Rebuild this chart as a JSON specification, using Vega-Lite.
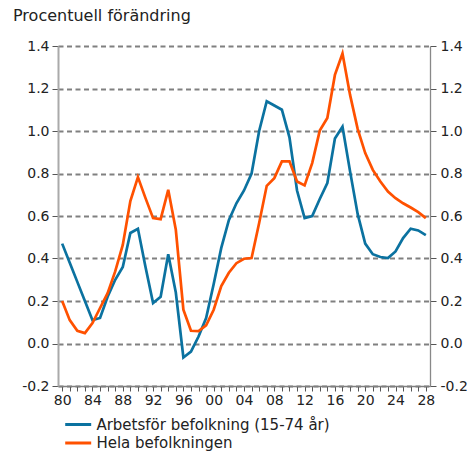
{
  "$schema": "https://vega.github.io/schema/vega-lite/v6.json",
  "width": 372,
  "height": 340,
  "autosize": {"type": "none"},
  "padding": {"left": 58, "top": 46, "right": 41, "bottom": 66},
  "background": "white",
  "config": {
    "font": "DejaVu Sans",
    "view": {"stroke": null},
    "axis": {"labelFont": "DejaVu Sans", "labelColor": "#222222", "labelFontSize": 14, "labelOverlap": false},
    "axisX": {"labelOverlap": false, "labelFlush": false}
  },
  "title": {
    "text": "Procentuell förändring",
    "anchor": "start",
    "frame": "group",
    "dx": -45,
    "offset": 2,
    "baseline": "alphabetic",
    "fontSize": 16,
    "fontWeight": "normal",
    "color": "#222222",
    "font": "DejaVu Sans"
  },
  "datasets": {
    "series": [
      {"year": 1980, "serie": "Arbetsför befolkning (15-74 år)", "value": 0.47},
      {"year": 1981, "serie": "Arbetsför befolkning (15-74 år)", "value": 0.38},
      {"year": 1982, "serie": "Arbetsför befolkning (15-74 år)", "value": 0.29},
      {"year": 1983, "serie": "Arbetsför befolkning (15-74 år)", "value": 0.2},
      {"year": 1984, "serie": "Arbetsför befolkning (15-74 år)", "value": 0.11},
      {"year": 1985, "serie": "Arbetsför befolkning (15-74 år)", "value": 0.12},
      {"year": 1986, "serie": "Arbetsför befolkning (15-74 år)", "value": 0.22},
      {"year": 1987, "serie": "Arbetsför befolkning (15-74 år)", "value": 0.3},
      {"year": 1988, "serie": "Arbetsför befolkning (15-74 år)", "value": 0.36},
      {"year": 1989, "serie": "Arbetsför befolkning (15-74 år)", "value": 0.52},
      {"year": 1990, "serie": "Arbetsför befolkning (15-74 år)", "value": 0.54},
      {"year": 1991, "serie": "Arbetsför befolkning (15-74 år)", "value": 0.36},
      {"year": 1992, "serie": "Arbetsför befolkning (15-74 år)", "value": 0.19},
      {"year": 1993, "serie": "Arbetsför befolkning (15-74 år)", "value": 0.22},
      {"year": 1994, "serie": "Arbetsför befolkning (15-74 år)", "value": 0.42},
      {"year": 1995, "serie": "Arbetsför befolkning (15-74 år)", "value": 0.24},
      {"year": 1996, "serie": "Arbetsför befolkning (15-74 år)", "value": -0.066},
      {"year": 1997, "serie": "Arbetsför befolkning (15-74 år)", "value": -0.038},
      {"year": 1998, "serie": "Arbetsför befolkning (15-74 år)", "value": 0.033},
      {"year": 1999, "serie": "Arbetsför befolkning (15-74 år)", "value": 0.12},
      {"year": 2000, "serie": "Arbetsför befolkning (15-74 år)", "value": 0.28},
      {"year": 2001, "serie": "Arbetsför befolkning (15-74 år)", "value": 0.45},
      {"year": 2002, "serie": "Arbetsför befolkning (15-74 år)", "value": 0.58},
      {"year": 2003, "serie": "Arbetsför befolkning (15-74 år)", "value": 0.66},
      {"year": 2004, "serie": "Arbetsför befolkning (15-74 år)", "value": 0.72},
      {"year": 2005, "serie": "Arbetsför befolkning (15-74 år)", "value": 0.8},
      {"year": 2006, "serie": "Arbetsför befolkning (15-74 år)", "value": 1.0},
      {"year": 2007, "serie": "Arbetsför befolkning (15-74 år)", "value": 1.14},
      {"year": 2008, "serie": "Arbetsför befolkning (15-74 år)", "value": 1.12},
      {"year": 2009, "serie": "Arbetsför befolkning (15-74 år)", "value": 1.1},
      {"year": 2010, "serie": "Arbetsför befolkning (15-74 år)", "value": 0.97},
      {"year": 2011, "serie": "Arbetsför befolkning (15-74 år)", "value": 0.72},
      {"year": 2012, "serie": "Arbetsför befolkning (15-74 år)", "value": 0.59},
      {"year": 2013, "serie": "Arbetsför befolkning (15-74 år)", "value": 0.6},
      {"year": 2014, "serie": "Arbetsför befolkning (15-74 år)", "value": 0.68},
      {"year": 2015, "serie": "Arbetsför befolkning (15-74 år)", "value": 0.755},
      {"year": 2016, "serie": "Arbetsför befolkning (15-74 år)", "value": 0.965},
      {"year": 2017, "serie": "Arbetsför befolkning (15-74 år)", "value": 1.02},
      {"year": 2018, "serie": "Arbetsför befolkning (15-74 år)", "value": 0.81},
      {"year": 2019, "serie": "Arbetsför befolkning (15-74 år)", "value": 0.61},
      {"year": 2020, "serie": "Arbetsför befolkning (15-74 år)", "value": 0.47},
      {"year": 2021, "serie": "Arbetsför befolkning (15-74 år)", "value": 0.42},
      {"year": 2022, "serie": "Arbetsför befolkning (15-74 år)", "value": 0.407},
      {"year": 2023, "serie": "Arbetsför befolkning (15-74 år)", "value": 0.402},
      {"year": 2024, "serie": "Arbetsför befolkning (15-74 år)", "value": 0.433},
      {"year": 2025, "serie": "Arbetsför befolkning (15-74 år)", "value": 0.496},
      {"year": 2026, "serie": "Arbetsför befolkning (15-74 år)", "value": 0.54},
      {"year": 2027, "serie": "Arbetsför befolkning (15-74 år)", "value": 0.532},
      {"year": 2028, "serie": "Arbetsför befolkning (15-74 år)", "value": 0.51},
      {"year": 1980, "serie": "Hela befolkningen", "value": 0.2},
      {"year": 1981, "serie": "Hela befolkningen", "value": 0.11},
      {"year": 1982, "serie": "Hela befolkningen", "value": 0.06},
      {"year": 1983, "serie": "Hela befolkningen", "value": 0.049},
      {"year": 1984, "serie": "Hela befolkningen", "value": 0.096},
      {"year": 1985, "serie": "Hela befolkningen", "value": 0.167},
      {"year": 1986, "serie": "Hela befolkningen", "value": 0.237},
      {"year": 1987, "serie": "Hela befolkningen", "value": 0.339},
      {"year": 1988, "serie": "Hela befolkningen", "value": 0.464},
      {"year": 1989, "serie": "Hela befolkningen", "value": 0.67},
      {"year": 1990, "serie": "Hela befolkningen", "value": 0.783},
      {"year": 1991, "serie": "Hela befolkningen", "value": 0.684},
      {"year": 1992, "serie": "Hela befolkningen", "value": 0.59},
      {"year": 1993, "serie": "Hela befolkningen", "value": 0.585},
      {"year": 1994, "serie": "Hela befolkningen", "value": 0.723},
      {"year": 1995, "serie": "Hela befolkningen", "value": 0.535},
      {"year": 1996, "serie": "Hela befolkningen", "value": 0.159},
      {"year": 1997, "serie": "Hela befolkningen", "value": 0.06},
      {"year": 1998, "serie": "Hela befolkningen", "value": 0.058},
      {"year": 1999, "serie": "Hela befolkningen", "value": 0.085},
      {"year": 2000, "serie": "Hela befolkningen", "value": 0.159},
      {"year": 2001, "serie": "Hela befolkningen", "value": 0.27},
      {"year": 2002, "serie": "Hela befolkningen", "value": 0.333},
      {"year": 2003, "serie": "Hela befolkningen", "value": 0.378},
      {"year": 2004, "serie": "Hela befolkningen", "value": 0.399},
      {"year": 2005, "serie": "Hela befolkningen", "value": 0.402},
      {"year": 2006, "serie": "Hela befolkningen", "value": 0.567},
      {"year": 2007, "serie": "Hela befolkningen", "value": 0.742},
      {"year": 2008, "serie": "Hela befolkningen", "value": 0.778},
      {"year": 2009, "serie": "Hela befolkningen", "value": 0.857},
      {"year": 2010, "serie": "Hela befolkningen", "value": 0.857},
      {"year": 2011, "serie": "Hela befolkningen", "value": 0.762},
      {"year": 2012, "serie": "Hela befolkningen", "value": 0.744},
      {"year": 2013, "serie": "Hela befolkningen", "value": 0.849},
      {"year": 2014, "serie": "Hela befolkningen", "value": 1.002},
      {"year": 2015, "serie": "Hela befolkningen", "value": 1.061},
      {"year": 2016, "serie": "Hela befolkningen", "value": 1.264},
      {"year": 2017, "serie": "Hela befolkningen", "value": 1.365},
      {"year": 2018, "serie": "Hela befolkningen", "value": 1.17},
      {"year": 2019, "serie": "Hela befolkningen", "value": 1.01},
      {"year": 2020, "serie": "Hela befolkningen", "value": 0.896},
      {"year": 2021, "serie": "Hela befolkningen", "value": 0.817},
      {"year": 2022, "serie": "Hela befolkningen", "value": 0.762},
      {"year": 2023, "serie": "Hela befolkningen", "value": 0.715},
      {"year": 2024, "serie": "Hela befolkningen", "value": 0.684},
      {"year": 2025, "serie": "Hela befolkningen", "value": 0.66},
      {"year": 2026, "serie": "Hela befolkningen", "value": 0.64},
      {"year": 2027, "serie": "Hela befolkningen", "value": 0.618},
      {"year": 2028, "serie": "Hela befolkningen", "value": 0.59}
    ]
  },
  "layer": [
    {
      "data": {"name": "series"},
      "mark": {"type": "line", "strokeWidth": 2.7, "strokeJoin": "miter"},
      "encoding": {
        "x": {
          "field": "year",
          "type": "quantitative",
          "scale": {"domain": [1979.45, 2028.55], "nice": false, "zero": false},
          "axis": {
            "title": null,
            "values": [1980,1981,1982,1983,1984,1985,1986,1987,1988,1989,1990,1991,1992,1993,1994,1995,1996,1997,1998,1999,2000,2001,2002,2003,2004,2005,2006,2007,2008,2009,2010,2011,2012,2013,2014,2015,2016,2017,2018,2019,2020,2021,2022,2023,2024,2025,2026,2027,2028],
            "labelExpr": "datum.value % 4 == 0 ? slice(toString(datum.value), 2) : ''",
            "labelOverlap": false,
            "labelFlush": false,
            "grid": false,
            "tickSize": 5,
            "tickColor": "#555555",
            "tickWidth": 1,
            "domainColor": "#808080",
            "domainWidth": 1.5,
            "labelPadding": 2
          }
        },
        "y": {
          "field": "value",
          "type": "quantitative",
          "scale": {"domain": [-0.2, 1.4], "nice": false, "zero": false},
          "axis": {
            "title": null,
            "orient": "left",
            "values": [-0.2, 0, 0.2, 0.4, 0.6, 0.8, 1.0, 1.2, 1.4],
            "labelExpr": "datum.value < 0 ? '-' + format(-datum.value, '.1f') : format(datum.value, '.1f')",
            "grid": true,
            "gridColor": "#808080",
            "gridDash": [5, 3.5],
            "gridWidth": 1.8,
            "tickSize": 6,
            "tickColor": "#555555",
            "domainColor": "#aaaaaa",
            "domainWidth": 2,
            "labelPadding": 3
          }
        },
        "color": {
          "field": "serie",
          "type": "nominal",
          "scale": {
            "domain": ["Arbetsför befolkning (15-74 år)", "Hela befolkningen"],
            "range": ["#0b72a0", "#ff5100"]
          },
          "legend": {
            "title": null,
            "orient": "none",
            "legendX": 12.7,
            "legendY": 371,
            "padding": 0,
            "direction": "vertical",
            "symbolType": "M-3,0H3",
            "symbolSize": 75,
            "symbolStrokeWidth": 3,
            "labelFontSize": 15,
            "labelColor": "#222222",
            "labelOffset": 10.7,
            "labelLimit": 400,
            "rowPadding": 2.5
          }
        }
      }
    },
    {
      "mark": {"type": "rule", "color": "#000000", "strokeWidth": 1.3},
      "encoding": {
        "y": {
          "datum": 0,
          "type": "quantitative",
          "scale": {"domain": [-0.2, 1.4], "nice": false, "zero": false},
          "axis": {
            "title": null,
            "orient": "right",
            "values": [-0.2, 0, 0.2, 0.4, 0.6, 0.8, 1.0, 1.2, 1.4],
            "labelExpr": "datum.value < 0 ? '-' + format(-datum.value, '.1f') : format(datum.value, '.1f')",
            "grid": false,
            "tickSize": 6,
            "tickColor": "#555555",
            "domainColor": "#888888",
            "domainWidth": 1.3,
            "labelPadding": 4
          }
        }
      }
    },
    {
      "mark": {"type": "rule", "color": "#808080", "strokeWidth": 1.8, "strokeDash": [5, 3.5]},
      "encoding": {
        "x": {
          "datum": 2018.55,
          "type": "quantitative",
          "axis": {
            "title": null,
            "values": [1980,1981,1982,1983,1984,1985,1986,1987,1988,1989,1990,1991,1992,1993,1994,1995,1996,1997,1998,1999,2000,2001,2002,2003,2004,2005,2006,2007,2008,2009,2010,2011,2012,2013,2014,2015,2016,2017,2018,2019,2020,2021,2022,2023,2024,2025,2026,2027,2028],
            "labelExpr": "datum.value % 4 == 0 ? slice(toString(datum.value), 2) : ''",
            "labelOverlap": false,
            "labelFlush": false,
            "grid": false,
            "tickSize": 5,
            "tickColor": "#555555",
            "tickWidth": 1,
            "domainColor": "#808080",
            "domainWidth": 1.5,
            "labelPadding": 2
          }
        }
      }
    }
  ],
  "resolve": {"scale": {"y": "independent"}}
}
